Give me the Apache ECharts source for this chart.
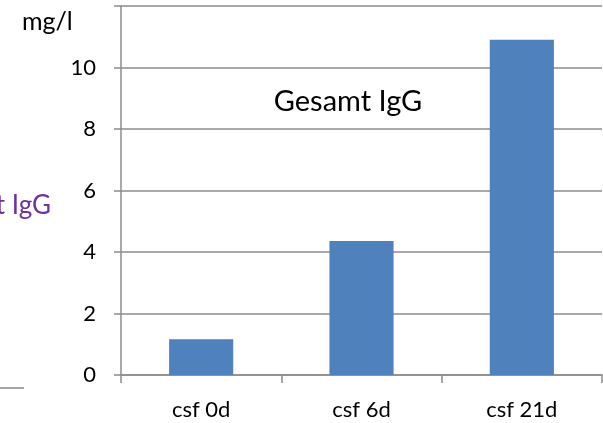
<!DOCTYPE html>
<html>
<head>
<meta charset="utf-8">
<script src="https://cdn.jsdelivr.net/npm/echarts@6/dist/echarts.min.js"></script>
<style>
  html, body { margin: 0; padding: 0; background: #ffffff; }
  #chart { width: 603px; height: 423px; }
</style>
</head>
<body>
<div id="chart"></div>
<script>
// Total IgG in CSF at three sampling days
const categories = ['csf 0d', 'csf 6d', 'csf 21d'];
const iggValues = [1.16, 4.36, 10.9];
const unitLabel = 'mg/l';
const chartTitle = 'Gesamt IgG';
const sideLabel = 'Gesamt IgG';

const FONT = 'Lato, "Open Sans", sans-serif';
const AXIS_GREY = '#8c8c8c';

const chart = echarts.init(document.getElementById('chart'), null, { renderer: 'canvas' });

chart.setOption({
  animation: false,
  backgroundColor: '#ffffff',
  grid: { left: 121, right: 1, top: 6, bottom: 48, containLabel: false },
  xAxis: {
    type: 'category',
    data: categories,
    boundaryGap: true,
    axisLine: { show: true, lineStyle: { color: AXIS_GREY, width: 1.5 } },
    axisTick: { show: true, length: 8, inside: false, alignWithLabel: false, lineStyle: { color: AXIS_GREY, width: 1.5 } },
    axisLabel: { color: '#000', fontFamily: FONT, fontSize: 22, margin: 24 },
    splitLine: { show: false }
  },
  yAxis: {
    type: 'value',
    min: 0,
    max: 12,
    interval: 2,
    axisLine: { show: true, lineStyle: { color: AXIS_GREY, width: 1.5 } },
    axisTick: { show: true, length: 7, inside: false, lineStyle: { color: AXIS_GREY, width: 1.5 } },
    axisLabel: {
      color: '#000', fontFamily: FONT, fontSize: 22, margin: 25,
      formatter: v => (v === 12 ? '' : String(v))
    },
    splitLine: { show: true, lineStyle: { color: AXIS_GREY, width: 1.5 } }
  },
  series: [{
    type: 'bar',
    data: iggValues,
    barWidth: '40%',
    itemStyle: { color: '#4f81bd' }
  }],
  graphic: [
    {
      type: 'text', left: 22, top: 9,
      style: { text: unitLabel, fill: '#000', font: '25px ' + FONT }
    },
    {
      type: 'text', x: 348, y: 102,
      style: { text: chartTitle, fill: '#000', font: '29px ' + FONT, align: 'center', verticalAlign: 'middle' }
    },
    {
      type: 'text', x: 51, y: 206,
      style: { text: sideLabel, fill: '#7030a0', font: '26px ' + FONT, align: 'right', verticalAlign: 'middle' }
    },
    {
      type: 'line',
      shape: { x1: 0, y1: 388, x2: 24, y2: 388 },
      style: { stroke: '#a6a6a6', lineWidth: 2 }
    }
  ]
});
</script>
</body>
</html>
